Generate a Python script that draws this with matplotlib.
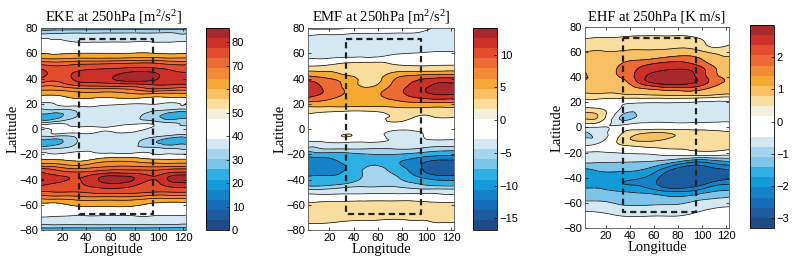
import numpy as np
import matplotlib
matplotlib.use("Agg")
import matplotlib.pyplot as plt
import matplotlib.tri as mtri
from matplotlib.colors import ListedColormap, Normalize
import matplotlib.cm as cm

# grid nodes (rows go from 80N down to 80S)
lat = np.arange(80, -81, -5)
lon = np.array([0, 15, 35, 55, 75, 95, 110, 125])

# EKE [m^2/s^2]
eke = [
    [20, 20, 20, 20, 20, 20, 20, 20],
    [35.5, 35.5, 35.5, 35.5, 35.5, 35.5, 35.5, 35.5],
    [39, 39, 37.5, 37.5, 37.5, 37.5, 37, 37],
    [44, 44, 44, 44, 44, 44, 44, 44],
    [47, 47, 48, 48, 48, 48, 47, 47],
    [63, 60, 62, 62, 63, 64, 62, 62],
    [74, 72, 74, 75, 76, 76, 74, 74],
    [83, 76, 79, 80, 82, 82, 79, 78],
    [80, 74, 80, 81, 84, 83, 80, 80],
    [70, 68, 74, 75, 76, 78, 78, 78],
    [56, 56, 60, 60, 62, 66, 64, 64],
    [45, 45, 50, 48, 50, 47, 48, 48],
    [38, 39, 41, 40, 39, 39, 38, 38],
    [33, 33, 36, 36, 36, 35, 33, 33],
    [20, 22, 35, 36, 36, 30, 20, 20],
    [36, 37, 37, 37, 37, 37, 34, 34],
    [36, 39.5, 40, 39, 41, 37, 36, 36],
    [35, 36, 37, 37, 37, 36, 34, 34],
    [20, 22, 35, 36, 36, 28, 20, 20],
    [32, 33, 36, 36, 36, 35, 33, 33],
    [39, 39, 41, 40, 40, 39, 39, 39],
    [50, 50, 47, 55, 56, 52, 51, 51],
    [68, 66, 62, 66, 67, 66, 67, 68],
    [80, 76, 74, 78, 78, 76, 79, 80],
    [83, 80, 78, 83, 83, 78, 83, 84],
    [78, 76, 77, 80, 79, 76, 79, 80],
    [72, 72, 72, 74, 74, 72, 72, 72],
    [58, 60, 62, 62, 62, 58, 58, 58],
    [44, 45, 50, 50, 50, 46, 44, 44],
    [42, 43, 43, 43, 43, 42, 42, 42],
    [38, 38, 38, 38, 38, 38, 38, 38],
    [35.5, 35.5, 35.5, 35.5, 35.5, 35.5, 35.5, 35.5],
    [18, 18, 18, 18, 18, 18, 18, 18],
]

# EMF [m^2/s^2]
emf = [
    [0.5, 1.0, 0.5, -1.0, -1.5, -2.0, -3.3, -3.3],
    [-2.5, -2.8, -3.0, -3.1, -3.1, -3.2, -3.6, -3.6],
    [-3.5, -3.6, -3.6, -3.6, -3.6, -3.6, -3.7, -3.7],
    [-3.6, -3.7, -3.7, -3.7, -3.7, -3.6, -3.6, -3.6],
    [-3.5, -3.5, -3.4, -3.2, -3.0, -2.8, -2.6, -2.6],
    [-2.9, -2.7, -2.0, -1.8, -1.5, -1.5, -1.5, -1.5],
    [0.0, 0.4, 2.0, 2.2, 0.6, 0.2, 0.4, 0.4],
    [4.0, 3.6, 2.6, 2.0, 3.5, 4.0, 4.2, 4.2],
    [8.5, 7.0, 4.6, 2.0, 6.5, 9.0, 10.0, 10.0],
    [11.5, 9.0, 5.3, 2.6, 7.5, 11.0, 13.2, 13.2],
    [11.8, 9.5, 6.0, 5.0, 8.5, 12.0, 13.5, 13.2],
    [10.0, 8.0, 5.5, 5.5, 7.5, 10.0, 11.0, 11.0],
    [5.0, 4.8, 4.5, 4.5, 5.0, 5.5, 5.5, 5.5],
    [1.5, 1.5, 1.0, 1.0, 2.0, 2.2, 2.0, 2.0],
    [-0.5, -1.5, -2.0, -1.0, 0.5, 0.0, 0.5, 0.5],
    [-1.0, -1.0, -1.0, -0.5, 0.0, -1.0, -1.0, -1.0],
    [-1.5, -1.5, -1.5, -2.0, -2.5, -2.5, -1.5, -1.5],
    [-2.0, -1.5, 0.4, -2.0, -3.2, -3.0, -2.0, -2.0],
    [-3.0, -2.8, -2.5, -2.8, -3.0, -3.2, -3.3, -3.3],
    [-4.3, -4.3, -4.2, -4.2, -4.2, -4.4, -4.8, -4.8],
    [-8.0, -7.0, -6.5, -6.0, -6.0, -7.0, -8.0, -8.0],
    [-11.0, -10.5, -8.0, -7.0, -8.5, -11.0, -12.5, -12.5],
    [-11.5, -11.0, -9.0, -5.5, -8.0, -12.0, -14.5, -14.5],
    [-10.0, -9.5, -8.5, -5.0, -6.5, -11.0, -13.5, -13.5],
    [-8.5, -8.5, -7.5, -5.0, -5.5, -8.0, -9.5, -9.5],
    [-6.0, -6.0, -5.0, -4.6, -4.6, -5.5, -6.0, -6.0],
    [-3.5, -3.5, -3.3, -3.3, -3.3, -3.3, -3.3, -3.3],
    [-1.5, -1.5, -1.2, -1.0, -1.0, -1.0, -1.5, -1.5],
    [1.5, 1.5, 1.5, 1.5, 1.5, 1.3, 0.8, 0.8],
    [1.6, 1.5, 1.5, 1.4, 1.4, 1.4, 0.3, 0.5],
    [1.2, 1.2, 1.0, 0.8, 0.5, 0.7, 0.8, 0.8],
    [0.1, 0.1, -0.5, -0.5, -0.5, -0.5, 0.0, 0.0],
    [-1.0, -1.0, -1.0, -1.0, -1.0, -1.0, -1.0, -1.0],
]

# EHF [K m/s]
ehf = [
    [0.0, 0.0, 0.0, 0.0, 0.0, 0.0, 0.0, 0.0],
    [0.05, 0.1, 0.1, 0.15, 0.15, 0.1, 0.0, 0.0],
    [0.35, 0.4, 0.45, 0.5, 0.5, 0.4, 0.1, 0.2],
    [0.6, 0.6, 0.6, 0.65, 0.7, 0.6, 0.2, 0.4],
    [0.8, 0.85, 0.9, 0.9, 1.0, 1.0, 0.7, 0.6],
    [1.0, 0.9, 1.2, 1.3, 1.6, 1.5, 1.0, 0.9],
    [1.2, 1.0, 1.5, 1.9, 2.1, 1.9, 1.3, 1.0],
    [1.5, 1.1, 1.6, 2.2, 2.5, 2.3, 1.5, 1.1],
    [1.6, 1.2, 1.5, 2.5, 2.8, 2.4, 1.6, 1.2],
    [1.2, 1.0, 1.2, 2.2, 2.6, 2.3, 1.6, 1.3],
    [1.0, 0.9, 1.0, 1.3, 1.5, 1.5, 1.2, 1.0],
    [0.55, 0.6, 0.6, 0.65, 0.7, 0.7, 0.6, 0.55],
    [0.0, 0.0, -0.3, -0.4, -0.4, -0.5, -0.6, -0.6],
    [0.5, 0.3, -0.6, -0.7, -0.7, -0.7, -0.8, -0.8],
    [0.9, 0.7, -1.1, -0.6, -0.6, -0.6, -0.7, -0.6],
    [0.6, 0.4, -0.9, -0.5, -0.5, -0.5, -0.5, -0.5],
    [-0.6, -0.5, -0.1, 0.0, 0.0, 0.0, 0.0, 0.0],
    [-1.1, -0.8, 0.4, 0.9, 0.8, 0.6, 0.5, 0.4],
    [-0.9, -0.7, 0.6, 0.9, 0.7, 0.6, 0.55, 0.5],
    [-0.3, -0.2, 0.2, 0.4, 0.5, 0.5, 0.5, 0.4],
    [-0.5, -0.5, -0.4, -0.3, -0.1, 0.1, 0.1, 0.0],
    [-0.75, -0.75, -0.8, -0.8, -0.9, -1.3, -1.2, -1.1],
    [-1.2, -1.2, -1.2, -1.3, -1.9, -2.5, -2.2, -2.0],
    [-1.7, -1.5, -1.5, -1.7, -2.7, -3.0, -2.8, -2.6],
    [-2.1, -1.7, -1.8, -2.1, -3.0, -3.1, -2.9, -2.7],
    [-1.7, -1.7, -2.0, -2.2, -3.0, -2.8, -2.2, -2.0],
    [-1.4, -1.4, -1.6, -1.8, -2.2, -2.0, -1.6, -1.5],
    [-1.1, -1.2, -1.3, -1.3, -1.5, -1.3, -1.1, -1.0],
    [-0.9, -0.9, -1.1, -1.1, -1.1, -0.9, -0.8, -0.7],
    [-0.6, -0.6, -0.8, -0.8, -0.8, -0.6, -0.4, -0.3],
    [-0.2, -0.3, -0.5, -0.5, -0.5, -0.3, -0.1, 0.0],
    [0.0, 0.0, -0.1, -0.1, -0.1, 0.0, 0.0, 0.0],
    [0.0, 0.0, 0.0, 0.0, 0.0, 0.0, 0.0, 0.0],
]

titles = ["EKE at 250hPa [m$^2$/s$^2$]", "EMF at 250hPa [m$^2$/s$^2$]",
          "EHF at 250hPa [K m/s]"]
box_lon = (34, 95)
box_lat = (-67.5, 71.5)

# 20 colour colormap, bottom to top
cb_colors = ["#1e4a85", "#1b5b9e", "#176dba", "#1582c9", "#139ad8",
             "#2fb0e4", "#7cc4ea", "#a5d4ee", "#d3e8f3", "#ffffff",
             "#ffffff", "#f2efdf", "#f9dd9f", "#f7c064", "#f5a832",
             "#f28a38", "#ec6a33", "#e14d2d", "#cd3029", "#a8282c"]
cmap = ListedColormap(cb_colors)

plt.rcParams["font.family"] = ["Liberation Serif", "DejaVu Serif"]
plt.rcParams["mathtext.fontset"] = "custom"
plt.rcParams["mathtext.rm"] = "Liberation Serif"
plt.rcParams["mathtext.it"] = "Liberation Serif:italic"
plt.rcParams["contour.negative_linestyle"] = "solid"

panels = [
    dict(z=eke, vmin=0, vmax=86, ticks=np.arange(0, 81, 10),
         levels=[0, 10, 17, 26, 34, 38.7, 48, 58, 66, 72, 78, 82, 86],
         bands=[1, 3, 5, 7, 8, 9, 14, 15, 16, 17, 18, 19]),
    dict(z=emf, vmin=-16.8, vmax=14.1, ticks=np.arange(-15, 11, 5),
         levels=[-16.8, -12.2, -9.1, -6.0, -4.45, -2.9, 0.2, 3.3, 6.4, 9.5, 12.6, 14.1],
         bands=[1, 3, 5, 7, 8, 9, 12, 14, 16, 18, 19]),
    dict(z=ehf, vmin=-3.3, vmax=3.0, ticks=np.arange(-3, 3, 1),
         levels=[-3.3, -2.5, -2.0, -1.5, -1.0, -0.45, 0.3, 0.8, 1.4, 1.9, 2.4, 3.0],
         bands=[1, 3, 4, 6, 8, 9, 12, 13, 16, 18, 19]),
]

ax_pos = [[0.0517, 0.1353, 0.1829, 0.7594],
          [0.3884, 0.1353, 0.1841, 0.7594],
          [0.7377, 0.1429, 0.1816, 0.7556]]
cb_pos = [[0.2598, 0.1353, 0.0290, 0.7594],
          [0.5965, 0.1353, 0.0303, 0.7594],
          [0.9458, 0.1429, 0.0303, 0.7630]]

# triangles of the regular grid
nlat, nlon = len(lat), len(lon)
tris = []
for i in range(nlat - 1):
    for j in range(nlon - 1):
        a = i * nlon + j
        tris.append([a, a + 1, a + nlon])
        tris.append([a + 1, a + nlon + 1, a + nlon])
tris = np.array(tris)
X, Y = np.meshgrid(lon, lat)

fig = plt.figure(figsize=(7.93, 2.66), dpi=100)

for k, p in enumerate(panels):
    ax = fig.add_axes(ax_pos[k])
    cax = fig.add_axes(cb_pos[k])
    z = np.array(p["z"], dtype=float).ravel()

    # smooth the coarse grid with matplotlib's cubic refiner
    tri = mtri.Triangulation(X.ravel() * 0.25, Y.ravel(), tris)
    tri_f, z_f = mtri.UniformTriRefiner(tri).refine_field(z, subdiv=3)
    tri_p = mtri.Triangulation(tri_f.x * 4, tri_f.y, tri_f.triangles)
    lev = p["levels"]
    z_f = np.clip(z_f, lev[0] + 1e-6, lev[-1] - 1e-6)

    ax.tricontourf(tri_p, z_f, levels=lev, colors=[cb_colors[b] for b in p["bands"]])
    ax.tricontour(tri_p, z_f, levels=lev[1:-1], colors="k", linewidths=0.5,
                  linestyles="solid")

    ax.plot([box_lon[0], box_lon[1], box_lon[1], box_lon[0], box_lon[0]],
            [box_lat[1], box_lat[1], box_lat[0], box_lat[0], box_lat[1]],
            color="#222222", lw=1.6, ls=(0, (2.8, 1.8)))

    ax.set_xlim(2.5, 122.5)
    ax.set_ylim(-80, 80)
    ax.set_xticks(np.arange(20, 121, 20))
    ax.set_yticks(np.arange(-80, 81, 20))
    ax.tick_params(direction="in", length=2.5, width=0.5, top=True, right=True,
                   labelsize=8, pad=2)
    for lab in ax.get_xticklabels() + ax.get_yticklabels():
        lab.set_family("Liberation Sans")
    for s in ax.spines.values():
        s.set_linewidth(0.6)
        s.set_color("#555555")
    ax.set_title(titles[k], fontsize=10.5, pad=5)
    ax.set_xlabel("Longitude", fontsize=10.5, labelpad=0)
    ax.set_ylabel("Latitude", fontsize=10.5, labelpad=0)

    sm = cm.ScalarMappable(norm=Normalize(p["vmin"], p["vmax"]), cmap=cmap)
    cb = fig.colorbar(sm, cax=cax, ticks=p["ticks"])
    cb.outline.set_linewidth(0.6)
    cb.ax.tick_params(labelsize=8, length=2.5, width=0.5, direction="in", pad=2)
    for lab in cb.ax.get_yticklabels():
        lab.set_family("Liberation Sans")

fig.savefig("out.png", dpi=100)
